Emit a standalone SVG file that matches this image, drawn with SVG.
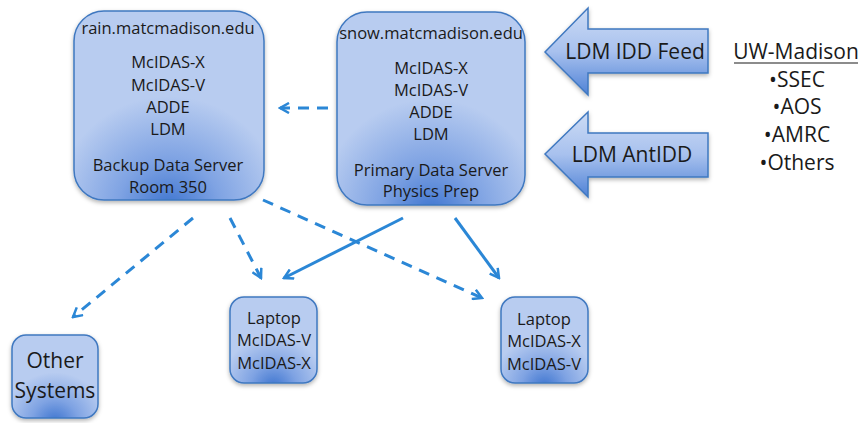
<svg xmlns="http://www.w3.org/2000/svg" width="863" height="423" viewBox="0 0 863 423">
<defs>
<style>
text{font-family:"Open Sans","Liberation Sans",sans-serif;fill:#1a1a1a;text-anchor:middle}
.box{fill:url(#boxg);stroke:#3f78c0;stroke-width:1.5;filter:url(#sh)}
.arr{fill:url(#arrg);stroke:#3f78c0;stroke-width:1.5;filter:url(#sh)}
.t16{font-size:16.5px}
.t22{font-size:21px}
.t19{font-size:21px}
.c{stroke:#2b87d6;stroke-width:3;fill:none}
.d{stroke-dasharray:11 8}
</style>
<radialGradient id="boxg" cx="0.5" cy="1.05" r="0.6" gradientUnits="objectBoundingBox">
<stop offset="0" stop-color="#3d74cf"/>
<stop offset="0.45" stop-color="#7fa3e3"/>
<stop offset="1" stop-color="#b8ccf0"/>
</radialGradient>
<linearGradient id="arrg" x1="0" y1="0" x2="0" y2="1">
<stop offset="0" stop-color="#cddcf5"/>
<stop offset="0.5" stop-color="#a8c1ee"/>
<stop offset="1" stop-color="#4f82d6"/>
</linearGradient>
<filter id="sh" x="-10%" y="-10%" width="120%" height="125%">
<feDropShadow dx="0" dy="2" stdDeviation="2" flood-color="#000" flood-opacity="0.3"/>
</filter>
<marker id="ah" viewBox="0 0 12 12" refX="10" refY="6" markerWidth="12" markerHeight="12" markerUnits="userSpaceOnUse" orient="auto">
<path d="M1,1 L10,6 L1,11" fill="none" stroke="#2b87d6" stroke-width="2.5"/>
</marker>
</defs>
<rect width="863" height="423" fill="#ffffff"/>
<g id="connectors">
<line class="c d" x1="328" y1="108" x2="280" y2="108" marker-end="url(#ah)"/>
<line class="c d" x1="193" y1="218" x2="73" y2="317" marker-end="url(#ah)"/>
<line class="c d" x1="230" y1="218" x2="261" y2="278" marker-end="url(#ah)"/>
<line class="c d" x1="263" y1="200" x2="482" y2="298" marker-end="url(#ah)"/>
<line class="c" x1="403" y1="218" x2="284" y2="278" marker-end="url(#ah)"/>
<line class="c" x1="455" y1="218" x2="499" y2="278" marker-end="url(#ah)"/>
</g>
<g id="rain">
<rect class="box" x="74" y="11" width="190" height="189" rx="30"/>
<text class="t16" x="168" y="34">rain.matcmadison.edu</text>
<text class="t16" x="168" y="68">McIDAS-X</text>
<text class="t16" x="168" y="91">McIDAS-V</text>
<text class="t16" x="168" y="113">ADDE</text>
<text class="t16" x="168" y="135">LDM</text>
<text class="t16" x="168" y="171">Backup Data Server</text>
<text class="t16" x="168" y="193">Room 350</text>
</g>
<g id="snow">
<rect class="box" x="337" y="12" width="188" height="193" rx="30"/>
<text class="t16" x="431" y="39">snow.matcmadison.edu</text>
<text class="t16" x="431" y="74">McIDAS-X</text>
<text class="t16" x="431" y="96">McIDAS-V</text>
<text class="t16" x="431" y="118">ADDE</text>
<text class="t16" x="431" y="140">LDM</text>
<text class="t16" x="431" y="176">Primary Data Server</text>
<text class="t16" x="431" y="197">Physics Prep</text>
</g>
<g id="idd">
<path class="arr" d="M545,52 L588,8 L588,29 L708,29 L708,73 L588,73 L588,95 Z"/>
<text class="t19" x="635" y="59">LDM IDD Feed</text>
</g>
<g id="antidd">
<path class="arr" d="M545,154 L588,112 L588,133 L708,133 L708,177 L588,177 L588,197 Z"/>
<text class="t19" x="632" y="162">LDM AntIDD</text>
</g>
<g id="uw">
<text class="t19" x="796" y="59">UW-Madison</text>
<line x1="734" y1="63" x2="858" y2="63" stroke="#1a1a1a" stroke-width="1.2"/>
<text class="t19" x="797" y="87">•SSEC</text>
<text class="t19" x="797" y="114">•AOS</text>
<text class="t19" x="797" y="142">•AMRC</text>
<text class="t19" x="797" y="170">•Others</text>
</g>
<g id="other">
<rect class="box" x="12" y="335" width="86" height="83" rx="14"/>
<text class="t22" x="55" y="368">Other</text>
<text class="t22" x="55" y="398">Systems</text>
</g>
<g id="laptop1">
<rect class="box" x="230" y="297" width="87" height="86" rx="14"/>
<text class="t16" x="274" y="324">Laptop</text>
<text class="t16" x="274" y="346">McIDAS-V</text>
<text class="t16" x="274" y="369">McIDAS-X</text>
</g>
<g id="laptop2">
<rect class="box" x="501" y="297" width="87" height="86" rx="14"/>
<text class="t16" x="544" y="325">Laptop</text>
<text class="t16" x="544" y="347">McIDAS-X</text>
<text class="t16" x="544" y="370">McIDAS-V</text>
</g>
</svg>
